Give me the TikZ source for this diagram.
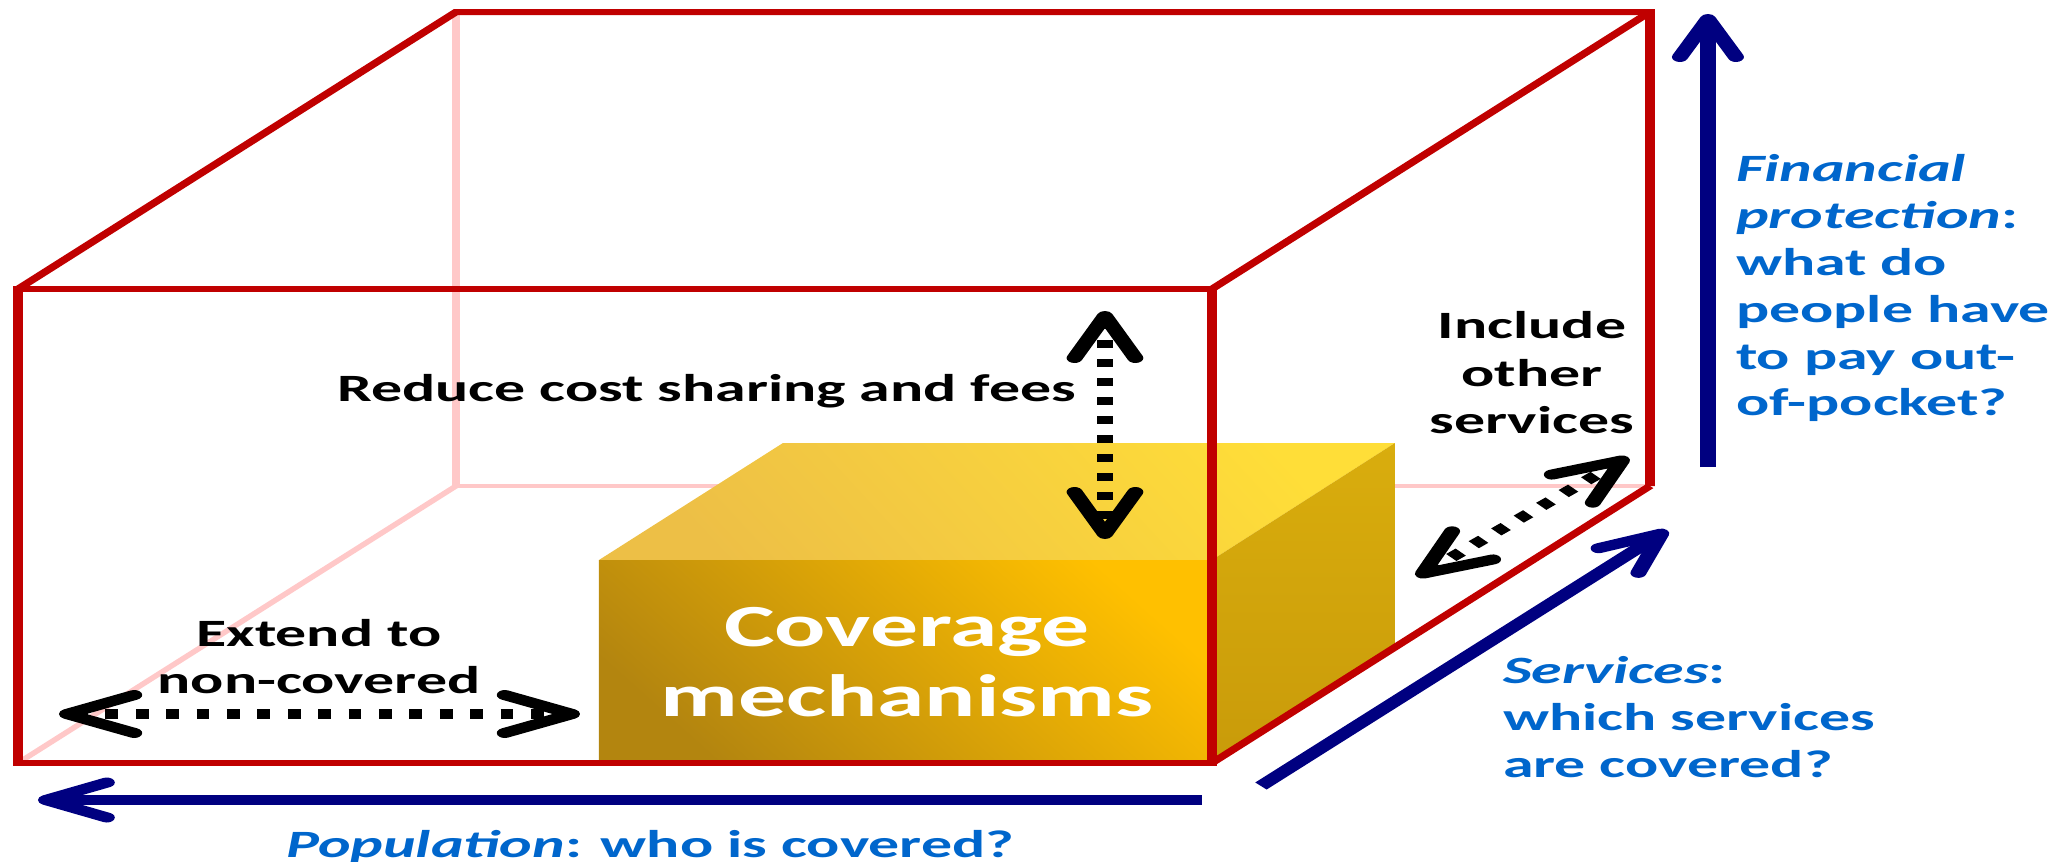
\documentclass[tikz,border=0pt]{standalone}
\usepackage{fontspec}
\setmainfont{Carlito}
\usetikzlibrary{arrows.meta}
\definecolor{boxred}{HTML}{C00000}
\definecolor{palepink}{HTML}{FFC8C8}
\definecolor{navyarrow}{HTML}{000080}
\definecolor{labelblue}{HTML}{0066CC}
\definecolor{goldA}{HTML}{FFC000}
\definecolor{goldB}{HTML}{B3850F}
\definecolor{topA}{HTML}{FFDE38}
\definecolor{topB}{HTML}{EDBF46}
\definecolor{sideA}{HTML}{D9AD0D}
\definecolor{sideB}{HTML}{C99B0A}
\tikzset{
  chev/.tip={Straight Barb[length=4.2mm,width=3.8mm,line width=1mm,round]},
  bchev/.tip={Straight Barb[length=3.8mm,width=3.5mm,line width=1mm,round]},
  redline/.style={draw=boxred, line width=0.6mm, line join=miter},
  pinkline/.style={draw=palepink, line width=0.45mm},
  dotarrow/.style={draw=black, line width=0.95mm, dash pattern=on 0.8mm off 1.1mm, arrows={chev-chev}},
  bluearrow/.style={draw=navyarrow, line width=1mm, arrows={-bchev}},
  lbl/.style={font=\fontsize{11}{13}\selectfont\bfseries, inner sep=0pt, anchor=base},
  bluelbl/.style={lbl, text=labelblue, anchor=base west},
  biglbl/.style={font=\fontsize{17}{20}\selectfont\bfseries, text=white, inner sep=0pt, anchor=base},
}
\begin{document}
\begin{tikzpicture}[x=0.1mm,y=-0.1mm]
\useasboundingbox (0,0) rectangle (2055,862);
\begin{scope}[transform canvas={xscale=1.6}, x=0.0625mm]
  % corners of the outer box
  \coordinate (FTL) at (18,289);
  \coordinate (FTR) at (1212,289);
  \coordinate (FBR) at (1212,763);
  \coordinate (FBL) at (18,763);
  \coordinate (BTL) at (456,12);
  \coordinate (BTR) at (1650,12);
  \coordinate (BBR) at (1650,486);
  \coordinate (BBL) at (456,486);
  % hidden edges
  \draw[pinkline] (BTL) -- (BBL) -- (BBR);
  \draw[pinkline] (FBL) -- (BBL);
  % back visible edges
  \draw[redline] (FTL) -- (BTL) -- (BTR) -- (BBR);
  \draw[redline] (FTR) -- (BTR);
  % yellow box
  \coordinate (YFTL) at (599,560);
  \coordinate (YFTR) at (1212,560);
  \coordinate (YFBR) at (1212,763);
  \coordinate (YFBL) at (599,763);
  \coordinate (YBTL) at (783,443);
  \coordinate (YBTR) at (1395,443);
  \coordinate (YBBR) at (1395,646);
  \shade[top color=topA, bottom color=topB, shading angle=-60] (YFTL) -- (YBTL) -- (YBTR) -- (YFTR) -- cycle;
  \shade[top color=sideA, bottom color=sideB] (YFTR) -- (YBTR) -- (YBBR) -- (YFBR) -- cycle;
  \shade[top color=goldA, bottom color=goldB, shading angle=-55] (YFBL) -- (YFTL) -- (YFTR) -- (YFBR) -- cycle;
  \node[biglbl] (cov1) at (907,646) {Coverage};
  \node[biglbl] (cov2) at (907,716) {mechanisms};
  % front visible edges
  \draw[redline] (FTL) -- (FTR) -- (FBR) -- (FBL) -- cycle;
  \draw[redline] (FBR) -- (BBR);
  % black dotted arrows
  \coordinate (fa1) at (1105,311);
  \coordinate (fa2) at (1105,539);
  \coordinate (pa1) at (59,714);
  \coordinate (pa2) at (580,714);
  \coordinate (sa1) at (1417,577);
  \coordinate (sa2) at (1628,457);
  \draw[dotarrow] (fa1) -- (fa2);
  \draw[dotarrow] (pa1) -- (pa2);
  \draw[dotarrow] (sa1) -- (sa2);
  % blue axes
  \coordinate (va1) at (1708,467);
  \coordinate (va2) at (1708,14);
  \coordinate (da1) at (1261,786);
  \coordinate (da2) at (1667,530);
  \coordinate (ha1) at (1202,800);
  \coordinate (ha2) at (38,800);
  \draw[bluearrow] (va1) -- (va2);
  \draw[bluearrow] (da1) -- (da2);
  \draw[bluearrow] (ha1) -- (ha2);
  % black labels
  \node[lbl, anchor=base west] (red) at (336,401) {Reduce cost sharing and fees};
  \node[lbl] (ext1) at (319,646) {Extend to};
  \node[lbl] (ext2) at (319,693) {non-covered};
  \node[lbl] (inc1) at (1532,338) {Include};
  \node[lbl] (inc2) at (1532,386) {other};
  \node[lbl] (inc3) at (1532,433) {services};
  % blue labels
  \node[bluelbl] (fp1) at (1735,181) {\itshape Financial};
  \node[bluelbl] (fp2) at (1735,228) {\textit{protection}:};
  \node[bluelbl] (fp3) at (1735,275) {what do};
  \node[bluelbl] (fp4) at (1735,322) {people have};
  \node[bluelbl] (fp5) at (1735,369) {to pay out-};
  \node[bluelbl] (fp6) at (1735,415) {of-pocket?};
  \node[bluelbl] (sv1) at (1502,683) {\textit{Services}:};
  \node[bluelbl] (sv2) at (1502,730) {which services};
  \node[bluelbl] (sv3) at (1502,777) {are covered?};
  \node[bluelbl] (pop) at (285,857) {\textit{Population}: who is covered?};
\end{scope}
\end{tikzpicture}
\end{document}
